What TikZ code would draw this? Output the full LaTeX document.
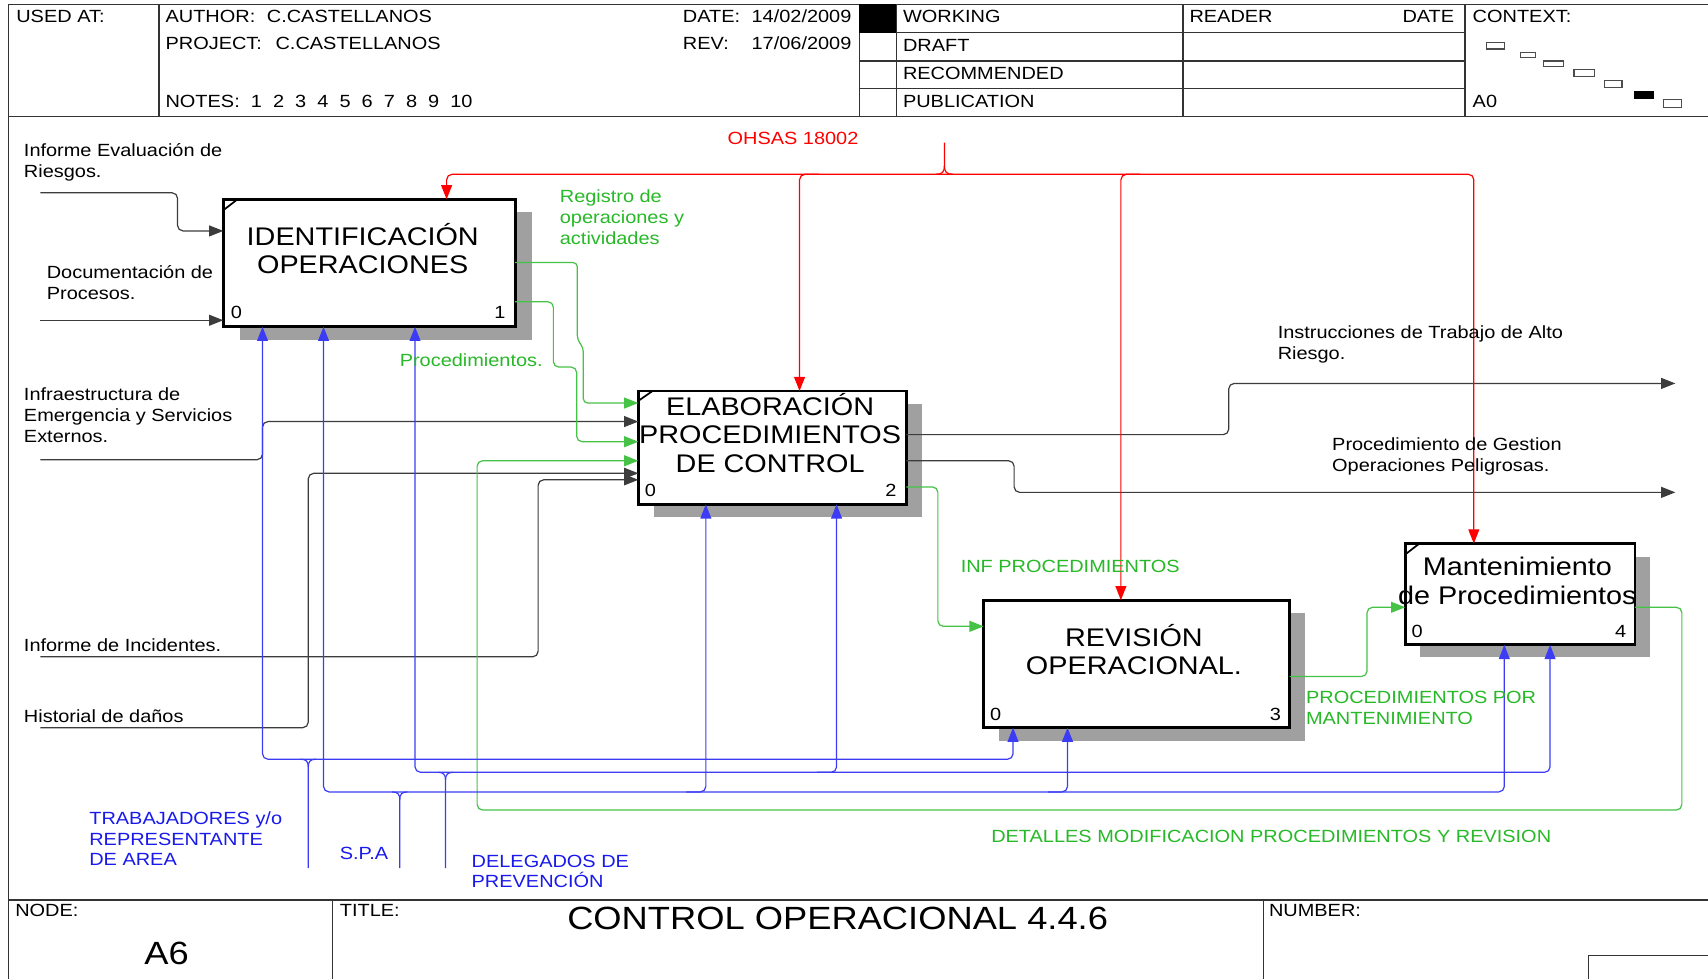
\documentclass[tikz,border=0pt]{standalone}
\usepackage{fontspec}
\setmainfont{Liberation Sans}[FakeStretch=1.13]
\usetikzlibrary{arrows.meta,calc}
\definecolor{idred}{RGB}{255,0,0}
\definecolor{idgreen}{RGB}{40,185,40}
\definecolor{idgreenline}{RGB}{70,195,70}
\definecolor{idblue}{RGB}{25,25,235}
\definecolor{idblueline}{RGB}{60,60,245}
\definecolor{idline}{RGB}{60,60,60}
\definecolor{shadowgray}{RGB}{160,160,160}
\begin{document}
\begin{tikzpicture}[x=1pt,y=-1pt,
  every node/.style={inner sep=0pt,outer sep=0pt},
  txt/.style={font=\fontsize{16.2}{19}\selectfont,align=left,anchor=base west},
  boxtitle/.style={font=\fontsize{23.4}{26}\selectfont,align=center,anchor=base},
  numlbl/.style={font=\fontsize{16.2}{19}\selectfont},
  fbox/.style={draw=black,line width=2.6pt,fill=white,rectangle},
  shd/.style={fill=shadowgray},
  hdrline/.style={draw=black!80,line width=1.2pt},
  arrowend/.style={-{Triangle[length=13pt,width=10pt]}},
  arrowboth/.style={{Triangle[length=13pt,width=10pt]}-{Triangle[length=13pt,width=10pt]}},
  blk/.style={draw=idline,line width=1.1pt,rounded corners=5pt},
  grn/.style={draw=idgreenline,line width=1.1pt,rounded corners=5pt},
  blu/.style={draw=idblueline,line width=1.1pt,rounded corners=5pt},
  rdl/.style={draw=idred,line width=1.1pt,rounded corners=5pt},
  cornermark/.style={draw=black,line width=1.6pt}
]
\useasboundingbox (0,0) rectangle (1568,899);
\fill[white] (0,0) rectangle (1568,899);

% ---------- frame and header ----------
\draw[hdrline] (8,4) -- (1568,4);
\draw[hdrline] (8,4) -- (8,899);
\draw[hdrline,line width=1.6pt] (8,107) -- (1568,107);
\draw[hdrline] (146,4) -- (146,107);
\draw[hdrline] (789,4) -- (789,107);
\draw[hdrline] (823,4) -- (823,107);
\draw[hdrline] (1086,4) -- (1086,107);
\draw[hdrline] (1345,4) -- (1345,107);
\draw[hdrline] (789,30) -- (1345,30);
\draw[hdrline] (789,56) -- (1345,56);
\draw[hdrline] (789,81) -- (1345,81);
\fill[black] (789,4) rectangle (823,30);

\node[txt] (hused) at (15,21) {USED AT:};
\node[txt] (hauth) at (152,21) {AUTHOR:};
\node[txt] (hauthv) at (245,21) {C.CASTELLANOS};
\node[txt] (hproj) at (152,45) {PROJECT:};
\node[txt] (hprojv) at (253,45) {C.CASTELLANOS};
\node[txt] (hnotes) at (152,99) {NOTES:~~1~~2~~3~~4~~5~~6~~7~~8~~9~~10};
\node[txt] (hdate) at (627,21) {DATE:};
\node[txt] (hdatev) at (690,21) {14/02/2009};
\node[txt] (hrev) at (627,45) {REV:};
\node[txt] (hrevv) at (690,45) {17/06/2009};
\node[txt] (hwork) at (829,21) {WORKING};
\node[txt] (hdraft) at (829,47) {DRAFT};
\node[txt] (hrec) at (829,73) {RECOMMENDED};
\node[txt] (hpub) at (829,99) {PUBLICATION};
\node[txt] (hread) at (1092,21) {READER};
\node[txt,anchor=base east] (hrdate) at (1335,21) {DATE};
\node[txt] (hctx) at (1352,21) {CONTEXT:};
\node[txt] (ha0) at (1352,99) {A0};

\draw[black!70,line width=1pt] (1365,39) rectangle (1381,45);
\draw[black!70,line width=1pt] (1396,48) rectangle (1410,53);
\draw[black!70,line width=1pt] (1417,56) rectangle (1435,61);
\draw[black!70,line width=1pt] (1445,64) rectangle (1464,70);
\draw[black!70,line width=1pt] (1473,74) rectangle (1489,80);
\fill[black] (1500,83.5) rectangle (1518,90.5);
\draw[black!70,line width=1pt] (1527,91) rectangle (1544,99);

% ---------- footer ----------
\draw[hdrline,line width=1.6pt] (8,826) -- (1568,826);
\draw[hdrline] (305,826) -- (305,899);
\draw[hdrline] (1160,826) -- (1160,899);
\draw[hdrline] (1458,899) -- (1458,877) -- (1568,877);
\node[txt] (fnode) at (14,841) {NODE:};
\node[txt] (ftitle) at (312,841) {TITLE:};
\node[txt] (fnum) at (1165,841) {NUMBER:};
\node[font=\fontsize{29.5}{32}\selectfont,anchor=base] (fa6) at (153,885.5) {A6};
\node[font=\fontsize{29.5}{32}\selectfont,anchor=base] (fttl) at (769,853.5) {CONTROL OPERACIONAL 4.4.6};

% ---------- shadows ----------
\fill[shd] (220,195) rectangle (488,312);
\fill[shd] (600,371) rectangle (846.5,475);
\fill[shd] (917,563) rectangle (1198,680);
\fill[shd] (1304,511) rectangle (1515,603);

% ---------- boxes ----------
\node[fbox,minimum width=268pt,minimum height=117pt] (b1) at (339,241.5) {};
\node[fbox,minimum width=246pt,minimum height=104pt] (b2) at (709,411) {};
\node[fbox,minimum width=281pt,minimum height=117pt] (b3) at (1043.5,609.5) {};
\node[fbox,minimum width=211pt,minimum height=93pt] (b4) at (1395.5,545.5) {};

\draw[cornermark] ($(b1.north west)+(0,10)$) -- ($(b1.north west)+(13,0)$);
\draw[cornermark] ($(b2.north west)+(0,9)$) -- ($(b2.north west)+(13,0)$);
\draw[cornermark] ($(b4.north west)+(0,10)$) -- ($(b4.north west)+(13,0)$);

% (base anchor of a multi-line node = baseline of its last line)
\node[boxtitle] (t1) at (333,251.5) {IDENTIFICACIÓN\\OPERACIONES};
\node[boxtitle] (t2) at (707,433.5) {ELABORACIÓN\\PROCEDIMIENTOS\\DE CONTROL};
\node[boxtitle] (t3) at (1041,619.5) {REVISIÓN\\OPERACIONAL.};
\node[boxtitle] (t4) at (1393,554.5) {Mantenimiento\\de Procedimientos};

\node[numlbl,anchor=base west] (n1a) at ($(b1.south west)+(7,-8)$) {0};
\node[numlbl,anchor=base east] (n1b) at ($(b1.south east)+(-9,-8)$) {1};
\node[numlbl,anchor=base west] (n2a) at ($(b2.south west)+(6,-7)$) {0};
\node[numlbl,anchor=base east] (n2b) at ($(b2.south east)+(-9,-7)$) {2};
\node[numlbl,anchor=base west] (n3a) at ($(b3.south west)+(6,-7)$) {0};
\node[numlbl,anchor=base east] (n3b) at ($(b3.south east)+(-8,-7)$) {3};
\node[numlbl,anchor=base west] (n4a) at ($(b4.south west)+(6,-7)$) {0};
\node[numlbl,anchor=base east] (n4b) at ($(b4.south east)+(-8,-7)$) {4};

% ---------- black inputs / outputs ----------
\coordinate (iA) at (37,177);
\coordinate (iB) at (37,294);
\coordinate (iC) at (37,422);
\coordinate (iD) at (37,603);
\coordinate (iE) at (37,668);
\coordinate (oA) at (1538,352);
\coordinate (oB) at (1538,452);
\draw[blk,arrowend] (iA) -- (163,177) -- (163,212) -- ($(b1.north west)+(0,29)$);
\draw[blk,arrowend] (iB) -- ($(b1.north west)+(0,111)$);
\draw[blk,arrowend] (iC) -- (241,422) -- (241,387) -- ($(b2.north west)+(0,28)$);
\draw[blk,arrowend] (iE) -- (283,668) -- (283,434.5) -- ($(b2.north west)+(0,75.5)$);
\draw[blk,arrowend] (iD) -- (494,603) -- (494,440.5) -- ($(b2.north west)+(0,81.5)$);
\draw[blk,arrowend] ($(b2.north east)+(0,40)$) -- (1128,399) -- (1128,352) -- (oA);
\draw[blk,arrowend] ($(b2.north east)+(0,64)$) -- (931,423) -- (931,452) -- (oB);

% ---------- green ----------
\draw[grn,arrowend,rounded corners=4pt] ($(b1.north east)+(0,58)$) -- (530,241) -- (530,312) -- (535.5,319) -- (535.5,370) -- ($(b2.north west)+(0,11)$);
\draw[grn,arrowend] ($(b1.north east)+(0,94)$) -- (508,277) -- (508,337) -- (529.4,337) -- (529.4,405.5) -- ($(b2.north west)+(0,46.5)$);
\draw[grn,arrowend] ($(b4.north east)+(0,58.5)$) -- (1544,557.5) -- (1544,743.6) -- (438,743.6) -- (438,423) -- ($(b2.north west)+(0,64)$);
\draw[grn,arrowend] ($(b2.north east)+(0,88)$) -- (861,447) -- (861,575) -- ($(b3.north west)+(0,24)$);
\draw[grn,arrowend] ($(b3.north east)+(0,70)$) -- (1255,621) -- (1255,557.5) -- ($(b4.north west)+(0,58.5)$);

% ---------- red controls ----------
\coordinate (cO) at (867,131);
\draw[rdl,arrowboth] ($(b1.north west)+(205,0)$) -- (410,160) -- (1353,160) -- ($(b4.north west)+(63,0)$);
\draw[rdl,arrowend] (752,160) -| ($(b2.north west)+(148,0)$);
\draw[rdl,arrowend] (1047,160) -| ($(b3.north west)+(126,0)$);
\draw[draw=idred,line width=1.1pt] (cO) -- (867,152) .. controls (867,158) and (865,160) .. (859,160);
\draw[draw=idred,line width=1.1pt] (867,152) .. controls (867,158) and (869,160) .. (875,160);

% ---------- blue mechanisms ----------
\coordinate (mT) at (283,797);
\coordinate (mS) at (367,797);
\coordinate (mD) at (409,797);
\draw[blu,arrowboth] ($(b1.south west)+(36,0)$) -- (241,697) -- (930,697) -- ($(b3.south west)+(27,0)$);
\draw[blu,arrowboth] ($(b1.south west)+(92,0)$) -- (297,727) -- (1381,727) -- ($(b4.south west)+(91,0)$);
\draw[blu,arrowboth] ($(b1.south west)+(176,0)$) -- (381,709) -- (1423,709) -- ($(b4.south west)+(133,0)$);
\draw[blu,arrowend] (630,727) -| ($(b2.south west)+(62,0)$);
\draw[blu,arrowend] (962,727) -| ($(b3.south west)+(77,0)$);
\draw[blu,arrowend] (750,709) -| ($(b2.south west)+(182,0)$);
\draw[draw=idblueline,line width=1.1pt] (mT) -- (283,704) .. controls (283,699) and (281,697) .. (276,697);
\draw[draw=idblueline,line width=1.1pt] (283,704) .. controls (283,699) and (285,697) .. (290,697);
\draw[draw=idblueline,line width=1.1pt] (mS) -- (367,734) .. controls (367,729) and (365,727) .. (360,727);
\draw[draw=idblueline,line width=1.1pt] (367,734) .. controls (367,729) and (369,727) .. (374,727);
\draw[draw=idblueline,line width=1.1pt] (mD) -- (409,716) .. controls (409,711) and (407,709) .. (402,709);
\draw[draw=idblueline,line width=1.1pt] (409,716) .. controls (409,711) and (411,709) .. (416,709);

% ---------- labels (base = last line's baseline) ----------
\node[txt] (lA) at (22,163) {Informe Evaluación de\\Riesgos.};
\node[txt] (lB) at (43,275) {Documentación de\\Procesos.};
\node[txt] (lC) at (22,406) {Infraestructura de\\Emergencia y Servicios\\Externos.};
\node[txt] (lD) at (22,598) {Informe de Incidentes.};
\node[txt] (lE) at (22,663) {Historial de daños};
\node[txt] (lF) at (1173,330) {Instrucciones de Trabajo de Alto\\Riesgo.};
\node[txt] (lG) at (1223,433) {Procedimiento de Gestion\\Operaciones Peligrosas.};
\node[txt,text=idgreen] (lH) at (514,224) {Registro de\\operaciones y\\actividades};
\node[txt,text=idgreen] (lI) at (367,336) {Procedimientos.};
\node[txt,text=idgreen] (lJ) at (882,526) {INF PROCEDIMIENTOS};
\node[txt,text=idgreen] (lK) at (1199,665) {PROCEDIMIENTOS POR\\MANTENIMIENTO};
\node[txt,text=idgreen] (lL) at (910,773) {DETALLES MODIFICACION PROCEDIMIENTOS Y REVISION};
\node[txt,text=idred] (lM) at (668,133) {OHSAS 18002};
\node[txt,text=idblue] (lN) at (82,795) {TRABAJADORES y/o\\REPRESENTANTE\\DE AREA};
\node[txt,text=idblue] (lO) at (312,789) {S.P.A};
\node[txt,text=idblue] (lP) at (433,815) {DELEGADOS DE\\PREVENCIÓN};
\end{tikzpicture}
\end{document}
